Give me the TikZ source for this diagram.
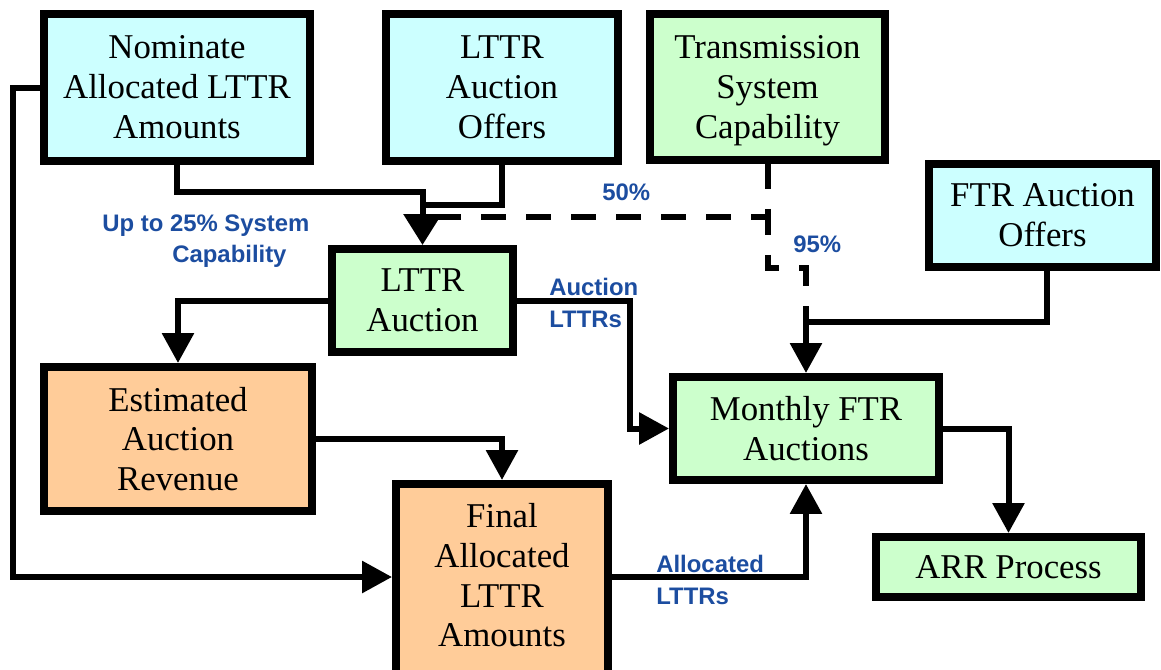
\documentclass[tikz,border=0pt]{standalone}
\usepackage{fontspec}
\setmainfont{Liberation Serif}
\newfontfamily\lblfont{Liberation Sans}
\usetikzlibrary{arrows.meta}
\definecolor{boxcyan}{RGB}{204,255,255}
\definecolor{boxgreen}{RGB}{204,255,204}
\definecolor{boxorange}{RGB}{255,204,153}
\definecolor{lblblue}{RGB}{28,77,160}
\tikzset{
  box/.style={draw=black, line width=0.16cm, rectangle, inner sep=0pt,
    align=center, font=\fontsize{19.8}{22.7}\selectfont},
  cyanbox/.style={box, fill=boxcyan},
  greenbox/.style={box, fill=boxgreen},
  orangebox/.style={box, fill=boxorange},
  conn/.style={draw=black, line width=0.12cm},
  tip/.style={-{Triangle[length=0.6cm,width=0.62cm]}},
  bigtip/.style={-{Triangle[length=0.62cm,width=0.74cm]}},
  dashln/.style={conn, dash pattern=on 0.5cm off 0.4cm},
  lbl/.style={text=lblblue, inner sep=0pt, align=left,
    font=\lblfont\bfseries\fontsize{13.6}{18.1}\selectfont}
}
\begin{document}
\begin{tikzpicture}[x=0.02cm, y=-0.02cm]
\useasboundingbox (0,0) rectangle (1161,670);

% boxes
\node[cyanbox, minimum width=5.32cm, minimum height=2.94cm] (nom) at (177,87.5)
  {Nominate\\Allocated LTTR\\Amounts};
\node[cyanbox, minimum width=4.64cm, minimum height=2.94cm] (offers) at (502,87.5)
  {LTTR\\Auction\\Offers};
\node[greenbox, minimum width=4.70cm, minimum height=2.92cm, text depth=0pt] (tsc) at (767.5,87)
  {Transmission\\System\\Capability};
\node[cyanbox, minimum width=4.54cm, minimum height=2.06cm] (ftro) at (1042.5,215.5)
  {FTR Auction\\Offers};
\node[greenbox, minimum width=3.62cm, minimum height=2.06cm] (lttra) at (422.5,300.5)
  {LTTR\\Auction};
\node[orangebox, minimum width=5.36cm, minimum height=2.88cm] (est) at (178,439)
  {Estimated\\Auction\\Revenue};
\node[orangebox, minimum width=4.24cm, minimum height=3.84cm, text depth=0.2cm] (fin) at (502,580)
  {Final\\Allocated\\LTTR\\Amounts};
\node[greenbox, minimum width=5.32cm, minimum height=2.06cm] (mon) at (806,428.5)
  {Monthly FTR\\Auctions};
\node[greenbox, minimum width=5.30cm, minimum height=1.20cm] (arr) at (1008.5,567)
  {ARR Process};

% bend points
\coordinate (m1) at (422.5,192);
\coordinate (m2) at (422.5,205);
\coordinate (d0) at (422.5,217);
\coordinate (d1) at (767.5,217);
\coordinate (d2) at (767.5,268);
\coordinate (d3) at (806,268);
\coordinate (j3) at (806,322);

% capability shares (dashed)
\draw[dashln] (tsc.south) |- (d0);
\draw[dashln, dash phase=0.14cm] (d1) -- (d2) -- (d3) -- (j3);

% solid connectors
\draw[conn] (offers.south) |- (m2);
\draw[conn, bigtip] (nom.south) |- (m1) -- (lttra.north);
\draw[conn, tip] ([xshift=0.09cm]ftro.south) |- (j3) -- (mon.north);
\draw[conn, tip] (lttra.west) -| (est.north);
\draw[conn, tip] (est.east) -| (fin.north);
\draw[conn, tip] (nom.west) -- ++(-27.5,0) |- ([yshift=0.06cm]fin.west);
\draw[conn, tip] (lttra.east) -- ++(113,0) |- (mon.west);
\draw[conn, tip] ([yshift=0.06cm]fin.east) -| (mon.south);
\draw[conn, tip] (mon.east) -| (arr.north);

% labels
\node[lbl, anchor=north west] (lcap) at (102,214)
  {Up to 25\% System\\\hspace*{1.4cm}Capability};
\node[lbl, anchor=base west] (l50) at (602,200) {50\%};
\node[lbl, anchor=base west] (l95) at (793,252) {95\%};
\node[lbl, anchor=north west] (lauc) at (549,278) {Auction\\LTTRs};
\node[lbl, anchor=north west] (lall) at (656,555) {Allocated\\LTTRs};
\end{tikzpicture}
\end{document}
